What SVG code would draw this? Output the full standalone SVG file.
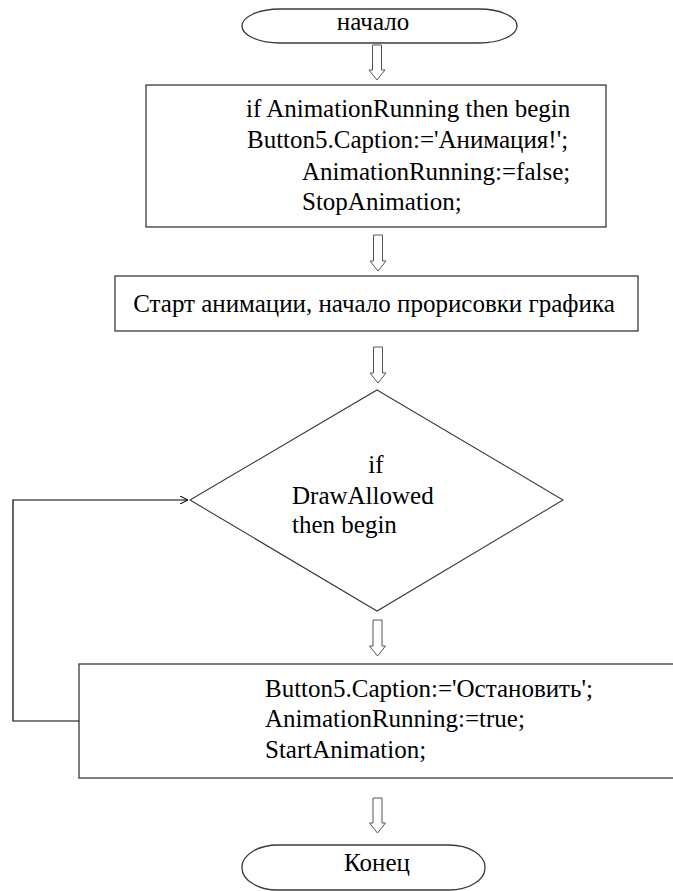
<svg xmlns="http://www.w3.org/2000/svg" width="673" height="891" viewBox="0 0 673 891">
<style>
.t{font-family:'Liberation Serif','Times New Roman',serif;font-size:25px;fill:#000}
.shape{fill:#fff;stroke:#3a3a3a;stroke-width:1.3}
.arrow{fill:#fff;stroke:#555;stroke-width:1}
.conn{fill:none;stroke:#000;stroke-width:1.2}
</style>
<defs>
<marker id="open" viewBox="0 0 10 10" refX="10" refY="5" markerWidth="8" markerHeight="8" markerUnits="userSpaceOnUse" orient="auto">
<path d="M0,0 L10,5 L0,10" fill="none" stroke="#000" stroke-width="1.3"/>
</marker>
</defs>
<rect width="673" height="891" fill="#fff"/>

<g id="start">
<rect class="shape" x="242" y="9" width="275" height="34" rx="38" ry="17"/>
<text class="t" x="373" y="30" text-anchor="middle">начало</text>
</g>

<g id="box1">
<rect class="shape" x="146" y="85" width="460" height="142"/>
<text class="t" x="246" y="117">if AnimationRunning then begin</text>
<text class="t" x="247" y="148">Button5.Caption:='Анимация!';</text>
<text class="t" x="302" y="180">AnimationRunning:=false;</text>
<text class="t" x="302" y="210">StopAnimation;</text>
</g>

<g id="box2">
<rect class="shape" x="115" y="276" width="523" height="55"/>
<text class="t" x="374" y="312" text-anchor="middle">Старт анимации, начало прорисовки графика</text>
</g>

<g id="decision">
<polygon class="shape" points="377,390 563,500 377,611 190,500" style="stroke-width:1.1"/>
<text class="t" x="376" y="473" text-anchor="middle">if</text>
<text class="t" x="292" y="504">DrawAllowed</text>
<text class="t" x="292" y="533">then begin</text>
</g>

<g id="box3">
<rect class="shape" x="79" y="664" width="610" height="114"/>
<text class="t" x="265" y="697">Button5.Caption:='Остановить';</text>
<text class="t" x="265" y="727">AnimationRunning:=true;</text>
<text class="t" x="265" y="758">StartAnimation;</text>
</g>

<g id="end">
<rect class="shape" x="242" y="845" width="243" height="45" rx="36" ry="22"/>
<text class="t" x="377" y="871" text-anchor="middle">Конец</text>
</g>

<g id="connectors">
<polygon class="arrow" points="372.5,45 381.5,45 381.5,70 385,70 377,80 369,70 372.5,70"/>
<polygon class="arrow" points="373.5,235 382.5,235 382.5,261 386,261 378,271 370,261 373.5,261"/>
<polygon class="arrow" points="373.5,347 382.5,347 382.5,373 386,373 378,383 370,373 373.5,373"/>
<polygon class="arrow" points="373,620 382,620 382,646 385.5,646 377.5,656 369.5,646 373,646"/>
<polygon class="arrow" points="373,798 382,798 382,823 385.5,823 377.5,833 369.5,823 373,823"/>
<polyline class="conn" points="79,721 13,721 13,500 188,500" marker-end="url(#open)"/>
</g>
</svg>
